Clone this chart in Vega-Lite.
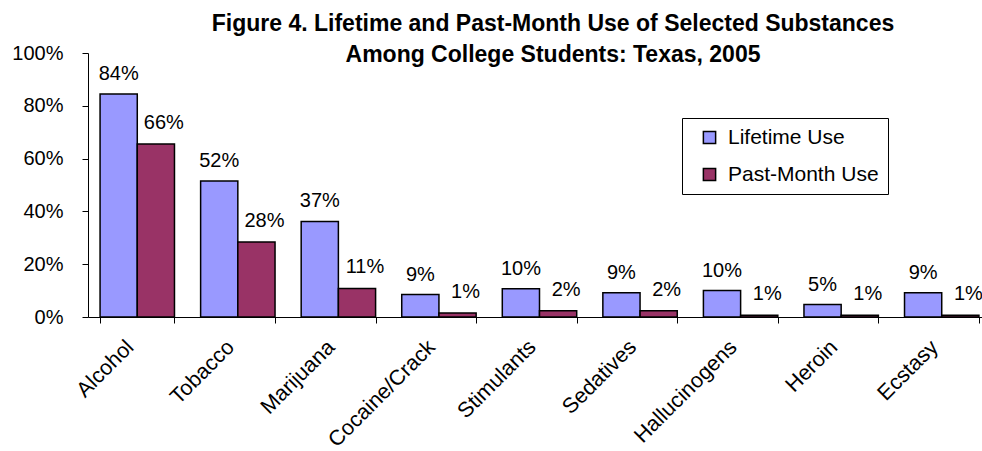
{
  "$schema": "https://vega.github.io/schema/vega-lite/v6.json",
  "width": 894,
  "height": 264,
  "autosize": {"type": "none"},
  "padding": {"left": 88, "top": 53, "right": 0, "bottom": 134},
  "background": "white",
  "title": {
    "text": ["Figure 4. Lifetime and Past-Month Use of Selected Substances", "Among College Students: Texas, 2005"],
    "font": "Liberation Sans",
    "fontSize": 23,
    "fontWeight": "bold",
    "color": "black",
    "lineHeight": 31,
    "anchor": "middle",
    "dx": 18,
    "offset": -24
  },
  "data": {
    "values": [
      {"substance": "Alcohol", "series": "Lifetime Use", "value": 0.845, "label": "84%"},
      {"substance": "Alcohol", "series": "Past-Month Use", "value": 0.655, "label": "66%"},
      {"substance": "Tobacco", "series": "Lifetime Use", "value": 0.515, "label": "52%"},
      {"substance": "Tobacco", "series": "Past-Month Use", "value": 0.284, "label": "28%"},
      {"substance": "Marijuana", "series": "Lifetime Use", "value": 0.362, "label": "37%"},
      {"substance": "Marijuana", "series": "Past-Month Use", "value": 0.108, "label": "11%"},
      {"substance": "Cocaine/Crack", "series": "Lifetime Use", "value": 0.085, "label": "9%"},
      {"substance": "Cocaine/Crack", "series": "Past-Month Use", "value": 0.015, "label": "1%"},
      {"substance": "Stimulants", "series": "Lifetime Use", "value": 0.107, "label": "10%"},
      {"substance": "Stimulants", "series": "Past-Month Use", "value": 0.024, "label": "2%"},
      {"substance": "Sedatives", "series": "Lifetime Use", "value": 0.092, "label": "9%"},
      {"substance": "Sedatives", "series": "Past-Month Use", "value": 0.024, "label": "2%"},
      {"substance": "Hallucinogens", "series": "Lifetime Use", "value": 0.1, "label": "10%"},
      {"substance": "Hallucinogens", "series": "Past-Month Use", "value": 0.007, "label": "1%"},
      {"substance": "Heroin", "series": "Lifetime Use", "value": 0.047, "label": "5%"},
      {"substance": "Heroin", "series": "Past-Month Use", "value": 0.007, "label": "1%"},
      {"substance": "Ecstasy", "series": "Lifetime Use", "value": 0.092, "label": "9%"},
      {"substance": "Ecstasy", "series": "Past-Month Use", "value": 0.007, "label": "1%"}
    ]
  },
  "encoding": {
    "x": {
      "field": "substance",
      "type": "nominal",
      "sort": null,
      "scale": {"range": [0, 903], "paddingInner": 0.26, "paddingOuter": 0.12},
      "axis": {
        "title": null,
        "labelAngle": -45,
        "labelFont": "Liberation Sans",
        "labelFontSize": 21.5,
        "labelColor": "black",
        "labelPadding": 13,
        "labelOffset": -15,
        "tickBand": "extent",
        "tickSize": 6,
        "tickColor": "black",
        "domainColor": "black",
        "labelLimit": 300
      }
    },
    "xOffset": {"field": "series", "type": "nominal", "sort": ["Lifetime Use", "Past-Month Use"], "scale": {"paddingInner": 0}},
    "y": {
      "field": "value",
      "type": "quantitative",
      "scale": {"domain": [0, 1], "nice": false},
      "axis": {
        "title": null,
        "values": [0, 0.2, 0.4, 0.6, 0.8, 1],
        "format": ".0%",
        "grid": false,
        "labelFont": "Liberation Sans",
        "labelFontSize": 20,
        "labelColor": "black",
        "labelPadding": 19,
        "tickSize": 6,
        "tickColor": "black",
        "domainColor": "black"
      }
    }
  },
  "layer": [
    {
      "mark": {"type": "bar", "stroke": "black", "strokeWidth": 1.5},
      "encoding": {
        "color": {
          "field": "series",
          "type": "nominal",
          "scale": {"domain": ["Lifetime Use", "Past-Month Use"], "range": ["#9999FF", "#993366"]},
          "legend": {
            "title": null,
            "orient": "none",
            "legendX": 594,
            "legendY": 65,
            "strokeColor": "black",
            "fillColor": "white",
            "padding": 9,
            "symbolOffset": 8,
            "symbolType": "square",
            "symbolSize": 150,
            "symbolStrokeColor": "black",
            "symbolStrokeWidth": 1.5,
            "labelFont": "Liberation Sans",
            "labelFontSize": 21,
            "labelColor": "black",
            "labelOffset": 8,
            "rowPadding": 15,
            "labelExpr": "datum.label + '            '"
          }
        }
      }
    },
    {
      "transform": [{"filter": "datum.series == 'Lifetime Use'"}],
      "mark": {"type": "text", "font": "Liberation Sans", "fontSize": 20, "color": "black", "baseline": "middle", "dy": -20},
      "encoding": {"text": {"field": "label"}}
    },
    {
      "transform": [{"filter": "datum.series == 'Past-Month Use'"}],
      "mark": {"type": "text", "font": "Liberation Sans", "fontSize": 20, "color": "black", "baseline": "middle", "dy": -21, "dx": 8},
      "encoding": {"text": {"field": "label"}}
    }
  ],
  "config": {"view": {"stroke": null}}
}
